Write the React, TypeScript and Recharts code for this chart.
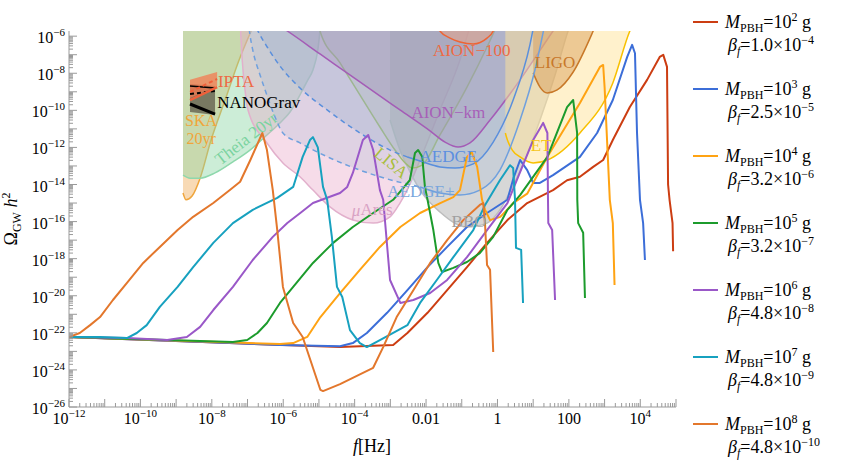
import React from "react";
import { ComposedChart, Area, Line, Scatter, XAxis, YAxis } from "recharts";

type Pt = [number, number];
type Band = [number, number, number];

// ---------------- GW spectra: [f (Hz), Omega_GW h^2] ----------------
const spec1e2: Pt[] = [
  [1e-12, 6.0e-23], [3.9e-5, 1.7e-23], [1.2e-3, 2.2e-23], [3.0e-3, 9.8e-23], [1.1e-2, 1.2e-21],
  [3.9e-2, 2.0e-20], [0.14, 3.5e-19], [0.51, 7.1e-18], [1.9, 1.2e-16], [6.8, 1.0e-15], [36, 5.0e-15],
  [89, 1.7e-14], [204, 2.6e-14], [479, 8.9e-14], [912, 2.1e-13], [1.7e3, 2.5e-12], [5.1e3, 1.5e-10],
  [1.55e4, 4.4e-9], [3.5e4, 7.6e-8], [4.4e4, 9.8e-8], [5.6e4, 2.2e-8], [6.0e4, 1.0e-14],
  [6.6e4, 1.5e-15], [8.0e4, 8.3e-17], [8.3e4, 2.5e-18],
];
const spec1e3: Pt[] = [
  [1e-12, 6.0e-23], [8.1e-7, 2.2e-23], [3.9e-5, 1.9e-23], [8.9e-5, 2.8e-23], [2.2e-4, 9.8e-23],
  [8.1e-4, 1.2e-21], [3.0e-3, 2.0e-20], [1.1e-2, 3.5e-19], [3.9e-2, 4.3e-18], [0.14, 5.1e-17],
  [0.51, 2.9e-16], [1.9, 1.5e-15], [2.8, 2.2e-14], [4.3, 2.1e-13], [6.8, 6.0e-14], [10, 1.2e-14],
  [15, 1.2e-14], [36, 3.2e-14], [204, 3.1e-13], [617, 6.0e-12], [1.7e3, 3.6e-10], [4.3e3, 7.6e-8],
  [5.9e3, 3.4e-7], [7.1e3, 1.2e-7], [8.1e3, 6.0e-12], [9.8e3, 1.5e-15], [1.2e4, 8.3e-17], [1.35e4, 8.5e-19],
];
const spec1e4: Pt[] = [
  [1e-12, 6.0e-23], [8.1e-7, 2.5e-23], [1.9e-6, 2.8e-23], [4.7e-6, 6.0e-23], [1.1e-5, 7.1e-22],
  [3.9e-5, 1.4e-20], [1.4e-4, 2.5e-19], [5.1e-4, 4.3e-18], [1.9e-3, 5.1e-17], [6.8e-3, 2.9e-16],
  [2.5e-2, 1.0e-15], [5.8e-2, 2.1e-15], [8.9e-2, 5.0e-15], [0.14, 3.1e-13], [0.19, 5.6e-13],
  [0.27, 8.9e-14], [0.37, 1.5e-15], [0.45, 4.3e-16], [0.62, 1.2e-16], [1.2, 1.8e-16], [2.8, 1.0e-15],
  [6.8, 3.2e-15], [25, 3.1e-13], [204, 2.5e-10], [741, 2.2e-8], [912, 2.8e-8], [1.0e3, 1.8e-9],
  [1.4e3, 1.5e-15], [1.7e3, 8.3e-17], [1.9e3, 3.8e-20],
];
const spec1e5: Pt[] = [
  [1e-12, 6.0e-23], [3.9e-8, 3.2e-23], [9.8e-8, 4.1e-23], [1.9e-7, 9.8e-23], [3.5e-7, 3.4e-22],
  [8.1e-7, 4.1e-21], [1.9e-6, 3.0e-20], [6.8e-6, 5.9e-19], [2.5e-5, 7.1e-18], [8.9e-5, 5.1e-17],
  [3.3e-4, 2.9e-16], [1.2e-3, 1.5e-15], [3.5e-3, 1.7e-14], [4.9e-3, 5.0e-13], [6.0e-3, 7.2e-13],
  [7.8e-3, 3.1e-13], [9.3e-3, 7.4e-15], [1.1e-2, 1.5e-15], [1.6e-2, 3.5e-17], [2.2e-2, 5.9e-19],
  [2.8e-2, 1.9e-19], [5.8e-2, 3.2e-19], [0.14, 6.6e-19], [0.32, 2.0e-18], [0.76, 1.5e-17],
  [1.9, 4.3e-16], [4.3, 2.7e-15], [25, 3.1e-13], [89, 1.5e-10], [132, 3.6e-10], [170, 6.0e-12],
  [172, 1.5e-15], [182, 8.3e-17], [251, 2.5e-17], [282, 7.6e-21],
];
const spec1e6: Pt[] = [
  [1e-12, 6.0e-23], [4.2e-11, 5.2e-23], [5.6e-10, 4.1e-23], [2.0e-9, 6.0e-23], [4.7e-9, 2.1e-22],
  [1.1e-8, 1.7e-21], [3.9e-8, 3.0e-20], [1.4e-7, 8.5e-19], [5.1e-7, 1.5e-17], [1.3e-6, 8.3e-17],
  [3.0e-6, 2.9e-16], [6.8e-6, 1.0e-15], [3.9e-5, 3.5e-15], [6.2e-5, 7.4e-15], [8.9e-5, 4.2e-14],
  [1.7e-4, 2.5e-12], [2.4e-4, 4.7e-12], [3.3e-4, 7.2e-13], [5.1e-4, 5.0e-15], [6.3e-4, 1.5e-15],
  [9.8e-4, 7.1e-20], [1.9e-3, 4.1e-21], [4.4e-3, 5.9e-21], [1.3e-2, 1.4e-20], [3.9e-2, 7.1e-20],
  [0.14, 1.2e-18], [0.51, 3.5e-17], [1.9, 1.0e-15], [10, 2.5e-12], [19, 2.1e-11], [25, 6.0e-12],
  [26, 1.5e-15], [26.5, 8.3e-17], [34, 3.5e-17], [41, 5.9e-21],
];
const spec1e7: Pt[] = [
  [1e-12, 6.0e-23], [7.4e-12, 6.0e-23], [4.2e-11, 5.2e-23], [7.9e-11, 9.8e-23], [1.5e-10, 2.6e-22],
  [3.5e-10, 2.5e-21], [1.1e-9, 3.0e-20], [3.0e-9, 3.5e-19], [1.1e-8, 7.1e-18], [3.9e-8, 8.3e-17],
  [1.4e-7, 4.3e-16], [6.8e-7, 1.9e-15], [1.9e-6, 7.4e-15], [3.5e-6, 3.1e-13], [5.6e-6, 2.5e-12],
  [6.8e-6, 3.6e-12], [9.3e-6, 1.0e-12], [1.3e-5, 7.4e-15], [1.7e-5, 1.5e-15], [2.3e-5, 1.5e-17],
  [3.2e-5, 3.0e-20], [4.5e-5, 8.5e-21], [7.4e-5, 1.4e-22], [1.4e-4, 2.8e-23], [2.2e-4, 1.7e-23],
  [5.1e-4, 4.1e-23], [3.0e-3, 2.6e-22], [6.8e-3, 4.1e-21], [2.0e-2, 7.1e-20], [5.8e-2, 1.2e-18],
  [0.21, 3.5e-17], [0.45, 7.9e-16], [1.17, 1.7e-14], [2.24, 1.1e-13], [2.75, 7.8e-14], [3.1, 1.5e-15],
  [3.3, 3.8e-18], [4.6, 3.0e-18], [5.2, 4.1e-21],
];
const spec1e8: Pt[] = [
  [1e-12, 6.0e-23], [2.0e-12, 9.8e-23], [3.9e-12, 2.6e-22], [7.4e-12, 7.1e-22], [1.7e-11, 5.9e-21],
  [4.2e-11, 4.9e-20], [1.2e-10, 5.9e-19], [3.5e-10, 4.3e-18], [1.1e-9, 3.5e-17], [3.0e-9, 1.8e-16],
  [1.1e-8, 1.0e-15], [3.2e-8, 5.0e-15], [6.2e-8, 1.4e-14], [1.2e-7, 2.1e-13], [2.6e-7, 6.0e-12],
  [3.5e-7, 7.2e-13], [5.1e-7, 5.0e-15], [6.8e-7, 3.5e-17], [9.8e-7, 3.0e-20], [1.9e-6, 3.4e-22],
  [3.5e-6, 6.0e-23], [6.8e-6, 1.3e-24], [1.1e-5, 8.3e-26], [1.3e-5, 7.2e-26], [3.9e-5, 1.7e-25],
  [3.3e-4, 1.3e-24], [6.3e-4, 1.7e-23], [1.5e-3, 7.1e-22], [4.4e-3, 2.0e-20], [1.3e-2, 5.9e-19],
  [3.9e-2, 1.0e-17], [0.11, 1.2e-16], [0.32, 7.9e-16], [0.40, 1.0e-15], [0.45, 6.6e-17],
  [0.51, 4.6e-19], [0.62, 2.5e-19], [0.76, 9.3e-24],
];

// legend text values
const massExp = [2, 3, 4, 5, 6, 7, 8];
const betaMant = ["1.0", "2.5", "3.2", "3.2", "4.8", "4.8", "4.8"];
const betaExp = [-4, -5, -6, -7, -8, -9, -10];
const specColors = ["#CC3D12", "#3C6ED8", "#FFA313", "#1C9B2C", "#9A58C8", "#17A1BF", "#E3772C"];
const spectra = [spec1e2, spec1e3, spec1e4, spec1e5, spec1e6, spec1e7, spec1e8];

// ---------------- detector sensitivity curves (lower boundary) ----------------
const skaCurve: Pt[] = [
  [1.56e-9, 3.5e-15], [1.9e-9, 1.5e-15], [2.8e-9, 2.4e-15], [4.7e-9, 2.2e-14], [9.5e-9, 2.5e-12],
  [2.35e-8, 3.6e-10], [5.8e-8, 5.2e-8], [1.5e-7, 4e-6],
];
const theiaCurve: Pt[] = [
  [1.56e-9, 3.2e-14], [2.45e-9, 2.2e-14], [4.7e-9, 2.2e-14], [1.23e-8, 4.2e-14], [3.9e-8, 1.66e-13],
  [1.17e-7, 7.2e-13], [3.5e-7, 4.7e-12], [8.1e-7, 2.1e-11], [1.55e-6, 8.1e-11], [2.95e-6, 6.8e-10],
  [4.9e-6, 4.4e-9], [6.8e-6, 1.5e-8], [9.3e-6, 1.8e-7], [1.07e-5, 1.9e-6], [1.15e-5, 7.4e-6],
];
const muAresCurve: Pt[] = [
  [6.2e-8, 7.4e-6], [7.1e-8, 5.2e-8], [8.5e-8, 1.26e-9], [1.03e-7, 1.05e-10], [3.5e-7, 1.74e-12],
  [9.8e-7, 1.45e-13], [2.95e-6, 2.6e-14], [6.8e-6, 5.0e-15], [2.04e-5, 6.2e-16], [8.9e-5, 1.23e-16],
  [3.3e-4, 8.3e-17], [9.8e-4, 1.8e-16], [1.86e-3, 1.0e-15], [2.95e-3, 5.0e-15], [6.8e-3, 2.1e-13],
  [2.45e-2, 1.05e-10], [8.9e-2, 5.2e-8], [0.19, 7.4e-6],
];
const lisaCurve: Pt[] = [
  [1.0e-5, 7.4e-6], [1.07e-5, 1.9e-6], [3.9e-5, 3.6e-8], [1.4e-4, 6.8e-10], [5.1e-4, 1.26e-11],
  [1.35e-3, 7.2e-13], [2.6e-3, 1.45e-13], [4.1e-3, 7.8e-14], [7.8e-3, 1.12e-13], [2.45e-2, 4.7e-12],
  [0.14, 1.8e-9], [0.51, 2.6e-7], [0.98, 4e-6],
];
const aedgeDash: Pt[] = [
  [1.4e-7, 7.4e-6], [1.95e-7, 1.9e-6], [3.7e-7, 2.3e-7], [8.1e-7, 2.45e-8], [2.95e-6, 1.6e-9],
  [2.04e-5, 8.1e-11], [1.4e-4, 6.0e-12], [9.8e-4, 7.2e-13], [2.95e-3, 3.1e-13],
];
const aedgeSolid: Pt[] = [
  [2.95e-3, 3.1e-13], [6.8e-3, 1.86e-13], [2.45e-2, 8.9e-14], [6.5e-2, 7.8e-14], [0.21, 1.3e-13],
  [0.76, 1.95e-12], [2.75, 3.6e-10], [8.1, 3.4e-7], [10.5, 4e-6],
];
const aedgePlusDash: Pt[] = [
  [1.03e-7, 7.4e-6], [1.17e-7, 1.17e-6], [1.4e-7, 1.8e-7], [2.24e-7, 8.1e-9], [3.1e-7, 1.26e-9],
  [5.9e-7, 4.4e-11], [9.8e-7, 6.0e-12], [2.95e-6, 1.74e-12], [2.04e-5, 2.7e-13], [5.1e-4, 2.6e-14],
  [6.8e-3, 7.4e-15],
];
const aedgePlusSolid: Pt[] = [
  [6.8e-3, 7.4e-15], [2.45e-2, 3.5e-15], [8.9e-2, 2.75e-15], [0.32, 5e-15], [1.17, 6.0e-14],
  [4.3, 3.0e-11], [11.2, 1.5e-8], [21, 4e-6],
];
const aionKmCurve: Pt[] = [
  [8.1e-7, 3.5e-6], [1.3e-6, 1.9e-6], [1.07e-5, 1.1e-7], [1.4e-4, 3.4e-9], [1.86e-3, 1.05e-10],
  [1.29e-2, 7.8e-12], [3.4e-2, 1.95e-12], [7.9e-2, 1.05e-12], [0.17, 1.74e-12], [0.62, 3.0e-11],
  [4.3, 4.4e-9], [36, 1.9e-6], [47, 4e-6],
];
const aion100Curve: Pt[] = [
  [1.9e-2, 5.9e-6], [2.45e-2, 1.9e-6], [4.7e-2, 7.9e-7], [8.9e-2, 4.9e-7], [0.21, 3.8e-7],
  [0.51, 7.9e-7], [0.76, 1.9e-6], [0.91, 5.9e-6],
];
const bboCurve: Pt[] = [
  [9.8e-4, 3.0e-11], [1.86e-3, 7.2e-13], [3.55e-3, 4.8e-14], [6.8e-3, 5e-15], [2.45e-2, 3.3e-16],
  [0.14, 5.1e-17], [0.51, 8.3e-17], [1.17, 4.3e-16], [2.24, 4.0e-15], [5.9, 2.1e-13], [15.5, 3.0e-11],
  [41, 8.1e-9], [95, 1.9e-6], [123, 7.4e-6],
];
const etCurve: Pt[] = [
  [1.66, 6.0e-12], [1.9, 2.5e-12], [2.6, 7.2e-13], [4.3, 3.1e-13], [10, 1.45e-13], [25, 2.1e-13],
  [204, 6.0e-12], [1.7e3, 3.0e-9], [5.1e3, 1.9e-6], [6.7e3, 5.9e-6],
];
const ligoCurve: Pt[] = [
  [10, 1.05e-8], [15.5, 1.8e-9], [25, 8.7e-10], [47, 1.26e-9], [132, 1.17e-8], [479, 1.9e-6], [617, 5.9e-6],
];

// PTA data bands: [f, low, high]
const nanoBand: Band[] = [[2.45e-9, 8.1e-11, 2.6e-9], [1.23e-8, 5.6e-11, 2.05e-9]];
const iptaBand: Band[] = [[2.45e-9, 4.6e-10, 4.4e-9], [1.41e-8, 2.05e-9, 1.17e-8]];
const iptaSolid: Pt[] = [[2.45e-9, 3.6e-10], [1.41e-8, 1.8e-9]];
const iptaDash: Pt[] = [[2.45e-9, 9.8e-10], [1.41e-8, 4.9e-9]];
const nanoDash: Pt[] = [[2.45e-9, 7.6e-10], [1.23e-8, 1.1e-9]];
const nanoThick: Pt[] = [[2.45e-9, 2.2e-10], [1.23e-8, 6.3e-11]];
const nanoTop: Pt[] = [[2.45e-9, 2.05e-9], [1.23e-8, 1.6e-9]];

// region labels (anchor in data coordinates)
const labelText = ["IPTA", "NANOGrav", "SKA", "20yr", "Theia 20yr", "AION\u2212100", "LIGO", "AION\u2212km", "LISA", "AEDGE", "AEDGE+", "\u03bcAres", "BBO", "ET"];
const labelF = [1.48e-8, 1.41e-8, 5.0e-9, 5.0e-9, 9.2e-8, 0.19, 41, 4.2e-2, 1.05e-3, 4.2e-2, 7.2e-3, 3.1e-4, 0.16, 16.6];
const labelV = [3.4e-9, 2.5e-10, 2.7e-11, 2.9e-12, 3.0e-12, 1.6e-7, 3.6e-8, 7.2e-11, 1.45e-13, 3.1e-13, 4.0e-15, 4.3e-16, 9.5e-17, 1.35e-12];
const labelColor = ["#EE6A45", "#000000", "#F0A53A", "#F0A53A", "#7BD3A0", "#EE6A45", "#C8782A", "#A75FB8", "#A8BE3C", "#5C8FE0", "#78A6DC", "#D9A2C4", "#A0A0A0", "#F5C518"];
const labelAnchor = ["start", "start", "middle", "middle", "middle", "middle", "middle", "middle", "middle", "middle", "middle", "middle", "middle", "middle"];
const labelRot = [0, 0, 0, 0, -38, 0, 0, 0, 40, 0, 0, 0, 0, 0];
const labelSize = [17, 17, 16, 16, 17, 17, 17, 17, 17, 17, 17, 17, 17, 17];

// ---------------- axes ----------------
const X_DOMAIN: [number, number] = [1e-12, 1e5];
const Y_DOMAIN: [number, number] = [1e-26, 1.9e-6];
const minorMult = [2, 3, 4, 5, 6, 7, 8, 9];
const buildTicks = (e0: number, e1: number, max: number) => {
  const t: number[] = [];
  for (let e = e0; e <= e1; e++) {
    const b = Math.pow(10, e);
    t.push(b);
    for (const m of minorMult) t.push(m * b);
  }
  return t.filter((v) => v <= max * 1.0001);
};
const xTicks = buildTicks(-12, 5, X_DOMAIN[1]);
const yTicks = buildTicks(-26, -6, Y_DOMAIN[1]);
const xTickLabels: Record<number, [string, string]> = {
  [-12]: ["10", "\u221212"], [-10]: ["10", "\u221210"], [-8]: ["10", "\u22128"], [-6]: ["10", "\u22126"],
  [-4]: ["10", "\u22124"], [-2]: ["0.01", ""], [0]: ["1", ""], [2]: ["100", ""], [4]: ["10", "4"],
};

const FONT = '"Liberation Serif", "Times New Roman", serif';
const FRAME = "#9a9a9a";
const MAJOR = 8;
const MINOR = 4;

const decadeOf = (v: number): number | null => {
  const l = Math.log10(v);
  const r = Math.round(l);
  return Math.abs(l - r) < 1e-6 ? r : null;
};

const XBottomTick = (p: any) => {
  const { x, y, payload } = p;
  const e = decadeOf(payload.value);
  const lab = e !== null ? xTickLabels[e] : undefined;
  return (
    <g>
      <line x1={x} x2={x} y1={y} y2={y - (e !== null ? MAJOR : MINOR)} stroke={FRAME} strokeWidth={1} />
      {lab && (
        <text x={x} y={y + 17} textAnchor="middle" fontSize={16} fontFamily={FONT} fill="#000">
          {lab[0]}
          {lab[1] && <tspan dy={-7} fontSize={11}>{lab[1]}</tspan>}
        </text>
      )}
    </g>
  );
};
const XTopTick = (p: any) => {
  const { x, y, payload } = p;
  const e = decadeOf(payload.value);
  return <line x1={x} x2={x} y1={y} y2={y + (e !== null ? MAJOR : MINOR)} stroke={FRAME} strokeWidth={1} />;
};
const YLeftTick = (p: any) => {
  const { x, y, payload } = p;
  const e = decadeOf(payload.value);
  const labeled = e !== null && e % 2 === 0;
  return (
    <g>
      <line x1={x} x2={x + (e !== null ? MAJOR : MINOR)} y1={y} y2={y} stroke={FRAME} strokeWidth={1} />
      {labeled && (
        <text x={x - 4} y={y + 7} textAnchor="end" fontSize={16} fontFamily={FONT} fill="#000">
          10<tspan dy={-7} fontSize={11}>{"\u2212" + String(-(e as number))}</tspan>
        </text>
      )}
    </g>
  );
};
const YRightTick = (p: any) => {
  const { x, y, payload } = p;
  const e = decadeOf(payload.value);
  return <line x1={x} x2={x - (e !== null ? MAJOR : MINOR)} y1={y} y2={y} stroke={FRAME} strokeWidth={1} />;
};

const CEIL = 1e-2;
const toRange = (pts: Pt[]) => pts.map(([f, v]) => ({ f, r: [v, CEIL] }));
const toBand = (pts: Band[]) => pts.map(([f, lo, hi]) => ({ f, r: [lo, hi] }));
const toLine = (pts: Pt[]) => pts.map(([f, v]) => ({ f, v }));

type Region = { id: string; pts: Pt[]; fill: string; fo: number; stroke: string };
const regions: Region[] = [
  { id: "ska", pts: skaCurve, fill: "#F0AE5A", fo: 0.45, stroke: "#EFA53C" },
  { id: "theia", pts: theiaCurve, fill: "#8DD6A6", fo: 0.45, stroke: "#8ED8AC" },
  { id: "muares", pts: muAresCurve, fill: "#E8A8C8", fo: 0.4, stroke: "#E2B0CC" },
  { id: "bbo", pts: bboCurve, fill: "#A0A0A0", fo: 0.42, stroke: "#BDBDBD" },
  { id: "lisa", pts: lisaCurve, fill: "#A9B77A", fo: 0.22, stroke: "#9DBB4C" },
  { id: "aedge", pts: aedgeDash.concat(aedgeSolid.slice(1)), fill: "#8EA6C8", fo: 0.32, stroke: "none" },
  { id: "aedgep", pts: aedgePlusDash.concat(aedgePlusSolid.slice(1)), fill: "#A9BCD8", fo: 0.3, stroke: "none" },
  { id: "aionkm", pts: aionKmCurve, fill: "#9E8CB4", fo: 0.32, stroke: "#A45CB6" },
  { id: "aion100", pts: aion100Curve, fill: "#F2A27E", fo: 0.45, stroke: "#EE6434" },
  { id: "et", pts: etCurve, fill: "#FFE39A", fo: 0.5, stroke: "#F8C000" },
  { id: "ligo", pts: ligoCurve, fill: "#D89A50", fo: 0.45, stroke: "#C87828" },
];

const makeLabel = (i: number) => (p: any) => {
  const { cx, cy } = p;
  const txt = labelText[i];
  const rot = labelRot[i];
  const isMu = txt.startsWith("\u03bc");
  return (
    <text
      x={cx}
      y={cy}
      dominantBaseline="central"
      textAnchor={labelAnchor[i] as any}
      fontSize={labelSize[i]}
      fontFamily={FONT}
      fill={labelColor[i]}
      transform={rot ? `rotate(${rot}, ${cx}, ${cy})` : undefined}
    >
      {isMu ? (
        <>
          <tspan fontStyle="italic">{"\u03bc"}</tspan>
          {txt.slice(1)}
        </>
      ) : (
        txt
      )}
    </text>
  );
};

const YLabel = () => (
  <text transform="rotate(-90)" x={-219} y={17} textAnchor="middle" fontSize={18} fontFamily={FONT} fill="#000">
    {"\u03a9"}
    <tspan fontSize={12} dy={4}>GW</tspan>
    <tspan dy={-4} fontStyle="italic">{" h"}</tspan>
    <tspan dy={-7} fontSize={12}>2</tspan>
  </text>
);
const XLabel = () => (
  <text x={372} y={452} textAnchor="middle" fontSize={18} fontFamily={FONT} fill="#000">
    <tspan fontStyle="italic">f</tspan>[Hz]
  </text>
);

const axisIds = { xAxisId: "b", yAxisId: "l" };
const SMOOTH = "monotoneX" as const;

export default function App() {
  return (
    <div style={{ position: "absolute", left: 0, top: 0, width: 845, height: 469, background: "#fff" }}>
      <ComposedChart width={845} height={469} margin={{ top: 31, right: 169, bottom: 22, left: 9 }}>
        <XAxis
          xAxisId="b"
          dataKey="f"
          type="number"
          scale="log"
          domain={X_DOMAIN}
          allowDataOverflow
          ticks={xTicks}
          interval={0}
          tick={(p: any) => <XBottomTick {...p} />}
          tickLine={false}
          tickSize={0}
          tickMargin={0}
          axisLine={{ stroke: FRAME }}
          height={40}
          label={() => <XLabel />}
        />
        <XAxis
          xAxisId="t"
          orientation="top"
          dataKey="f"
          type="number"
          scale="log"
          domain={X_DOMAIN}
          allowDataOverflow
          ticks={xTicks}
          interval={0}
          tick={(p: any) => <XTopTick {...p} />}
          tickLine={false}
          tickSize={0}
          tickMargin={0}
          axisLine={{ stroke: FRAME }}
          height={0}
        />
        <YAxis
          yAxisId="l"
          type="number"
          scale="log"
          domain={Y_DOMAIN}
          allowDataOverflow
          ticks={yTicks}
          interval={0}
          tick={(p: any) => <YLeftTick {...p} />}
          tickLine={false}
          tickSize={0}
          tickMargin={0}
          axisLine={{ stroke: FRAME }}
          width={60}
          label={() => <YLabel />}
        />
        <YAxis
          yAxisId="r"
          orientation="right"
          type="number"
          scale="log"
          domain={Y_DOMAIN}
          allowDataOverflow
          ticks={yTicks}
          interval={0}
          tick={(p: any) => <YRightTick {...p} />}
          tickLine={false}
          tickSize={0}
          tickMargin={0}
          axisLine={{ stroke: FRAME }}
          width={0}
        />

        {regions.map((r) => (
          <Area
            key={r.id}
            {...axisIds}
            data={toRange(r.pts)}
            dataKey="r"
            type={SMOOTH}
            fill={r.fill}
            fillOpacity={r.fo}
            stroke={r.stroke}
            strokeWidth={1.5}
            dot={false}
            activeDot={false}
            isAnimationActive={false}
          />
        ))}
        <Area {...axisIds} data={toBand(nanoBand)} dataKey="r" type="linear" fill="#5E5848" fillOpacity={0.75} stroke="none" isAnimationActive={false} dot={false} activeDot={false} />
        <Area {...axisIds} data={toBand(iptaBand)} dataKey="r" type="linear" fill="#F47A50" fillOpacity={0.75} stroke="none" isAnimationActive={false} dot={false} activeDot={false} />

        <Line {...axisIds} data={toLine(aedgeDash)} dataKey="v" type={SMOOTH} stroke="#5A8FDC" strokeWidth={1.5} strokeDasharray="5 4" dot={false} activeDot={false} isAnimationActive={false} />
        <Line {...axisIds} data={toLine(aedgeSolid)} dataKey="v" type={SMOOTH} stroke="#5A8FDC" strokeWidth={1.5} dot={false} activeDot={false} isAnimationActive={false} />
        <Line {...axisIds} data={toLine(aedgePlusDash)} dataKey="v" type={SMOOTH} stroke="#6FA0DE" strokeWidth={1.5} strokeDasharray="5 4" dot={false} activeDot={false} isAnimationActive={false} />
        <Line {...axisIds} data={toLine(aedgePlusSolid)} dataKey="v" type={SMOOTH} stroke="#6FA0DE" strokeWidth={1.5} dot={false} activeDot={false} isAnimationActive={false} />

        <Line {...axisIds} data={toLine(nanoTop)} dataKey="v" type="linear" stroke="#000" strokeWidth={1.5} dot={false} activeDot={false} isAnimationActive={false} />
        <Line {...axisIds} data={toLine(nanoDash)} dataKey="v" type="linear" stroke="#000" strokeWidth={2} strokeDasharray="4 3" dot={false} activeDot={false} isAnimationActive={false} />
        <Line {...axisIds} data={toLine(nanoThick)} dataKey="v" type="linear" stroke="#000" strokeWidth={3} dot={false} activeDot={false} isAnimationActive={false} />
        <Line {...axisIds} data={toLine(iptaSolid)} dataKey="v" type="linear" stroke="#F0603A" strokeWidth={2.5} dot={false} activeDot={false} isAnimationActive={false} />
        <Line {...axisIds} data={toLine(iptaDash)} dataKey="v" type="linear" stroke="#F0603A" strokeWidth={2} strokeDasharray="4 3" dot={false} activeDot={false} isAnimationActive={false} />

        {spectra.map((s, i) => (
          <Line
            key={"s" + i}
            {...axisIds}
            data={toLine(s)}
            dataKey="v"
            type="linear"
            stroke={specColors[i]}
            strokeWidth={2}
            strokeLinejoin="round"
            dot={false}
            activeDot={false}
            isAnimationActive={false}
          />
        ))}

        {labelText.map((t, i) => (
          <Scatter
            key={"l" + i}
            {...axisIds}
            data={[{ f: labelF[i], v: labelV[i] }]}
            dataKey="v"
            shape={makeLabel(i)}
            isAnimationActive={false}
          />
        ))}
      </ComposedChart>

      {massExp.map((m, i) => {
        const cy = 22 + 67 * i;
        return (
          <React.Fragment key={"lg" + i}>
            <div style={{ position: "absolute", left: 693, top: cy - 1, width: 25, height: 2, background: specColors[i] }} />
            <div style={{ position: "absolute", left: 725, top: cy - 11, height: 22, lineHeight: "22px", fontSize: 18, fontFamily: FONT, whiteSpace: "nowrap", color: "#000" }}>
              <i>M</i>
              <span style={{ fontSize: 12, position: "relative", top: 4 }}>PBH</span>=10
              <span style={{ fontSize: 12, position: "relative", top: -7 }}>{m}</span> g
            </div>
            <div style={{ position: "absolute", left: 728, top: cy + 12, height: 22, lineHeight: "22px", fontSize: 18, fontFamily: FONT, whiteSpace: "nowrap", color: "#000" }}>
              <i>{"\u03b2"}</i>
              <i style={{ fontSize: 12, position: "relative", top: 4 }}>f</i>={betaMant[i]}{"\u00d7"}10
              <span style={{ fontSize: 12, position: "relative", top: -7 }}>{"\u2212" + String(-betaExp[i])}</span>
            </div>
          </React.Fragment>
        );
      })}
    </div>
  );
}
